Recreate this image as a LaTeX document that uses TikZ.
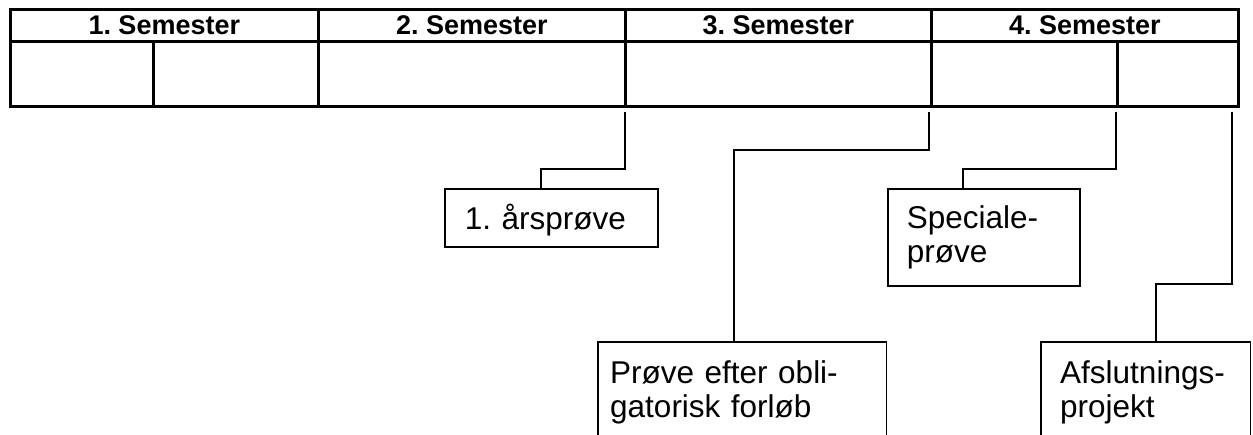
\documentclass[tikz,border=0pt]{standalone}
\usepackage{fontspec}
\setmainfont{Liberation Sans}
\begin{document}
\frenchspacing
\begin{tikzpicture}[x=1pt,y=-1pt,
  hcell/.style={draw, line width=2.6pt, anchor=north west, inner sep=0pt, minimum height=32pt,
    font=\fontsize{27}{30}\selectfont\bfseries},
  cell/.style={draw, line width=2.6pt, anchor=north west, inner sep=0pt, minimum height=65pt},
  exam/.style={anchor=north west, align=left, inner ysep=0pt, font=\fontsize{31.5}{34}\selectfont},
  boxline/.style={line width=1.8pt},
  conn/.style={line width=1.8pt},
]
\useasboundingbox (0,0) rectangle (1253,434);
\clip (0,0) rectangle (1253,434);
% header row
\node[hcell, minimum width=308pt] (h1) at (9,8) {1. Semester};
\node[hcell, minimum width=307pt] (h2) at (317,8) {2. Semester};
\node[hcell, minimum width=306pt] (h3) at (624,8) {3. Semester};
\node[hcell, minimum width=307pt] (h4) at (930,8) {4. Semester};
% lower row
\node[cell, minimum width=143pt] (c1a) at (9,40) {};
\node[cell, minimum width=165pt] (c1b) at (152,40) {};
\node[cell, minimum width=307pt] (c2) at (317,40) {};
\node[cell, minimum width=306pt] (c3) at (624,40) {};
\node[cell, minimum width=186pt] (c4a) at (930,40) {};
\node[cell, minimum width=121pt] (c4b) at (1116,40) {};
% connector starts
\coordinate (t1) at (625,112);
\coordinate (t2) at (929,112);
\coordinate (t3) at (1116,112);
\coordinate (t4) at (1232,112);
% exam boxes
\node[exam, draw, boxline, minimum width=213pt, minimum height=58pt, inner xsep=20pt,
  text width=173pt, text height=30pt, text depth=6pt] (b1) at (444,188) {1. årsprøve};
\node[exam, draw, boxline, minimum width=192pt, minimum height=97pt, inner xsep=19pt,
  text width=154pt] (b3) at (887,188) {Speciale-\\prøve};
\node[exam, minimum width=288pt, minimum height=100pt, inner xsep=12pt,
  text width=264pt] (b2) at (598,342) {Prøve efter obli-\\gatorisk forløb};
\node[exam, minimum width=209pt, minimum height=100pt, inner xsep=19pt,
  text width=171pt] (b4) at (1041,342) {Afslutnings-\\projekt};
\draw[boxline] (b2.south west) -- (b2.north west) -- (b2.north east) -- (b2.south east);
\draw[boxline] (b4.south west) -- (b4.north west) -- (b4.north east) -- (b4.south east);
% connectors
\draw[conn] (t1) -- ++(0,57) -| ([xshift=97pt]b1.north west);
\draw[conn] (t2) -- ++(0,38) -| ([xshift=136pt]b2.north west);
\draw[conn] (t3) -- ++(0,57) -| ([xshift=76pt]b3.north west);
\draw[conn] (t4) -- ++(0,172) -| ([xshift=115pt]b4.north west);
\end{tikzpicture}
\end{document}
